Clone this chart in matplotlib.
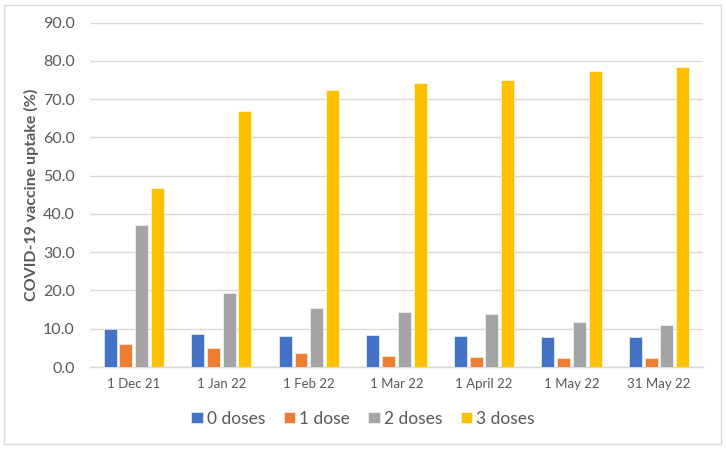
import matplotlib
matplotlib.use("Agg")
import matplotlib.pyplot as plt
import numpy as np
from matplotlib.patches import Rectangle

categories = ["1 Dec 21", "1 Jan 22", "1 Feb 22", "1 Mar 22", "1 April 22", "1 May 22", "31 May 22"]
dose0 = [9.9, 8.6, 8.1, 8.3, 8.0, 7.8, 7.8]
dose1 = [5.9, 5.0, 3.6, 2.9, 2.6, 2.4, 2.3]
dose2 = [37.1, 19.3, 15.5, 14.4, 13.9, 11.8, 11.1]
dose3 = [46.7, 66.8, 72.4, 74.2, 75.0, 77.4, 78.3]
series_names = ["0 doses", "1 dose", "2 doses", "3 doses"]
colors = ["#4472C4", "#ED7D31", "#A5A5A5", "#FFC000"]
yticks = [0, 10, 20, 30, 40, 50, 60, 70, 80, 90]

plt.rcParams['font.family'] = ['Lato', 'DejaVu Sans']
fig = plt.figure(figsize=(7.26, 4.5), dpi=100)
ax = fig.add_axes([0.124, 0.1844, 0.844, 0.7656])

x = np.arange(len(categories))
slot = 0.18
bw = 0.148
for i, (vals, name, c) in enumerate(zip([dose0, dose1, dose2, dose3], series_names, colors)):
    ax.bar(x + (i - 1.5) * slot, vals, width=bw, color=c, label=name, zorder=3,
           edgecolor='white', linewidth=0.4)

ax.set_xlim(-0.5, len(categories) - 0.5)
ax.set_ylim(0, 90)
ax.set_yticks(yticks)
ax.set_yticklabels([f"{v:.1f}" for v in yticks], fontsize=11.5, color="#595959")
ax.set_xticks(x)
ax.set_xticklabels(categories, fontsize=9.5, color="#595959")
ax.tick_params(axis='both', length=0)
ax.tick_params(axis='y', pad=11)
ax.tick_params(axis='x', pad=8)
ax.grid(axis='y', color='#D9D9D9', linewidth=1, zorder=0)
for s in ['top', 'right', 'left']:
    ax.spines[s].set_visible(False)
ax.spines['bottom'].set_color('#D9D9D9')
ax.spines['bottom'].set_linewidth(1)
ax.set_ylabel("COVID-19 vaccine uptake (%)", fontsize=11.5, fontweight='bold', color="#595959", labelpad=3)

leg = fig.legend(loc='center', bbox_to_anchor=(0.5, 0.07), ncol=4, frameon=False,
                 fontsize=12.5, handlelength=0.65, handleheight=0.65, handletextpad=0.25,
                 columnspacing=1.05, labelcolor="#595959")

fig.patches.append(Rectangle((0.006, 0.013), 0.987, 0.975, transform=fig.transFigure,
                             fill=False, edgecolor='#D9D9D9', linewidth=1))

fig.savefig("out.png", dpi=100)
